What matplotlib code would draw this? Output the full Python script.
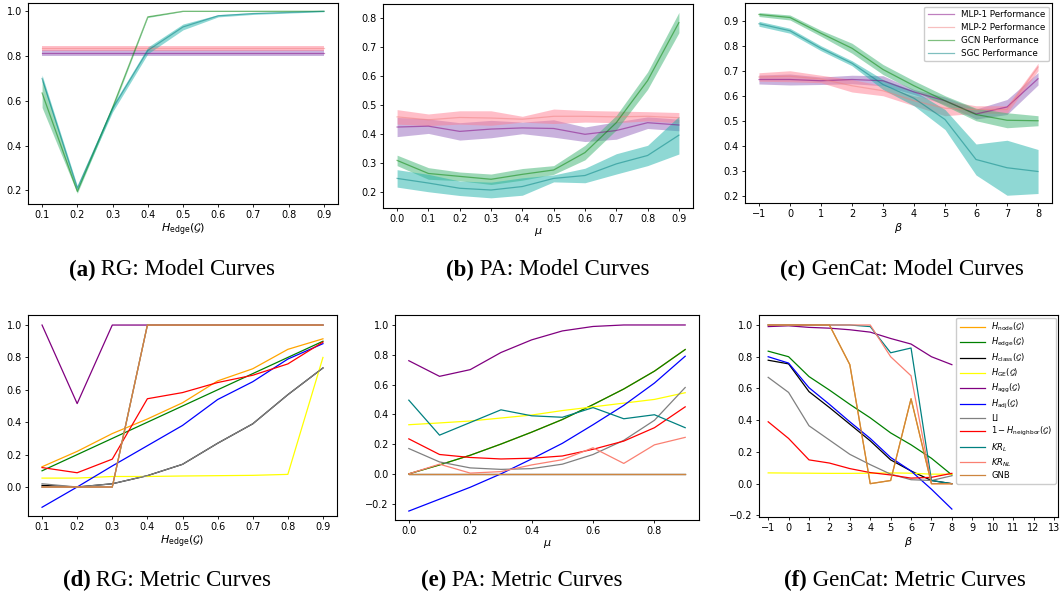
import numpy as np
import matplotlib
matplotlib.use("Agg")
import matplotlib.pyplot as plt

# ---------------- data: model curves ----------------
x_rg = [0.1, 0.2, 0.3, 0.4, 0.5, 0.6, 0.7, 0.8, 0.9]
x_pa = [0.0, 0.1, 0.2, 0.3, 0.4, 0.5, 0.6, 0.7, 0.8, 0.9]
x_gc = [-1, 0, 1, 2, 3, 4, 5, 6, 7, 8]

model_names = ["MLP-1 Performance", "MLP-2 Performance", "GCN Performance", "SGC Performance"]

# RG
rg_mlp1 = [0.815] * 9
rg_mlp1_sd = [0.013] * 9
rg_mlp2 = [0.835] * 9
rg_mlp2_sd = [0.011] * 9
rg_gcn = [0.635, 0.195, 0.57, 0.975, 1.0, 1.0, 1.0, 1.0, 1.0]
rg_gcn_sd = [0.065, 0.008, 0.01, 0.003, 0.001, 0.001, 0.001, 0.001, 0.001]
rg_sgc = [0.70, 0.21, 0.565, 0.825, 0.93, 0.98, 0.99, 0.995, 1.0]
rg_sgc_sd = [0.015, 0.01, 0.015, 0.015, 0.013, 0.005, 0.004, 0.003, 0.002]

# PA
pa_mlp1 = [0.425, 0.428, 0.41, 0.418, 0.422, 0.42, 0.40, 0.413, 0.44, 0.432]
pa_mlp1_sd = [0.033, 0.025, 0.03, 0.03, 0.02, 0.03, 0.025, 0.03, 0.02, 0.02]
pa_mlp2 = [0.46, 0.45, 0.458, 0.456, 0.452, 0.462, 0.462, 0.46, 0.462, 0.457]
pa_mlp2_sd = [0.025, 0.02, 0.023, 0.025, 0.01, 0.025, 0.02, 0.02, 0.016, 0.018]
pa_gcn = [0.31, 0.265, 0.255, 0.245, 0.262, 0.277, 0.337, 0.44, 0.585, 0.785]
pa_gcn_sd = [0.018, 0.02, 0.015, 0.018, 0.02, 0.015, 0.025, 0.025, 0.03, 0.035]
pa_sgc = [0.248, 0.232, 0.214, 0.208, 0.22, 0.248, 0.258, 0.298, 0.327, 0.397]
pa_sgc_sd = [0.03, 0.03, 0.025, 0.027, 0.03, 0.012, 0.025, 0.035, 0.035, 0.065]

# GenCat
gc_mlp1 = [0.665, 0.665, 0.66, 0.665, 0.66, 0.615, 0.58, 0.527, 0.555, 0.668]
gc_mlp1_sd = [0.018, 0.022, 0.015, 0.017, 0.02, 0.01, 0.015, 0.02, 0.03, 0.025]
gc_mlp2 = [0.675, 0.678, 0.667, 0.64, 0.62, 0.58, 0.55, 0.545, 0.545, 0.715]
gc_mlp2_sd = [0.017, 0.022, 0.015, 0.025, 0.02, 0.02, 0.03, 0.015, 0.015, 0.015]
gc_gcn = [0.925, 0.913, 0.85, 0.79, 0.705, 0.64, 0.58, 0.525, 0.502, 0.50]
gc_gcn_sd = [0.008, 0.01, 0.012, 0.02, 0.02, 0.02, 0.02, 0.025, 0.03, 0.02]
gc_sgc = [0.888, 0.86, 0.79, 0.73, 0.645, 0.59, 0.505, 0.345, 0.312, 0.297]
gc_sgc_sd = [0.01, 0.01, 0.01, 0.01, 0.02, 0.03, 0.04, 0.062, 0.11, 0.088]

# ---------------- data: metric curves ----------------
metric_names = [r"$H_{\mathrm{node}}(\mathcal{G})$", r"$H_{\mathrm{edge}}(\mathcal{G})$",
                r"$H_{\mathrm{class}}(\mathcal{G})$", r"$H_{\mathrm{GE}}(\mathcal{G})$",
                r"$H_{\mathrm{agg}}(\mathcal{G})$", r"$H_{\mathrm{adj}}(\mathcal{G})$",
                "LI", r"$1-H_{\mathrm{neighbor}}(\mathcal{G})$", r"$KR_L$", r"$KR_{NL}$", "GNB"]
metric_colors = ["orange", "green", "black", "yellow", "purple", "blue",
                 "gray", "red", "teal", "salmon", "peru"]

rg_metrics = [
    [0.125, 0.22, 0.33, 0.42, 0.52, 0.655, 0.73, 0.85, 0.915],      # H_node
    [0.1, 0.2, 0.3, 0.4, 0.5, 0.6, 0.7, 0.8, 0.9],                  # H_edge
    [0.01, 0.0, 0.02, 0.07, 0.14, 0.27, 0.39, 0.57, 0.735],         # H_class
    [0.055, 0.055, 0.065, 0.065, 0.068, 0.07, 0.072, 0.078, 0.80],  # H_GE
    [1.0, 0.515, 1.0, 1.0, 1.0, 1.0, 1.0, 1.0, 1.0],                # H_agg
    [-0.125, 0.0, 0.13, 0.255, 0.38, 0.54, 0.65, 0.79, 0.885],      # H_adj
    [0.02, 0.0, 0.02, 0.07, 0.14, 0.27, 0.39, 0.57, 0.735],         # LI
    [0.12, 0.088, 0.172, 0.545, 0.583, 0.645, 0.69, 0.76, 0.895],   # 1 - H_neighbor
    [0.0, 0.0, 0.0, 1.0, 1.0, 1.0, 1.0, 1.0, 1.0],                  # KR_L
    [0.0, 0.0, 0.0, 1.0, 1.0, 1.0, 1.0, 1.0, 1.0],                  # KR_NL
    [0.0, 0.0, 0.0, 1.0, 1.0, 1.0, 1.0, 1.0, 1.0],                  # GNB
]

pa_metrics = [
    [0.0, 0.06, 0.125, 0.20, 0.28, 0.365, 0.465, 0.57, 0.69, 0.835],
    [0.0, 0.06, 0.125, 0.20, 0.28, 0.365, 0.465, 0.57, 0.69, 0.835],
    [0.0, 0.0, 0.0, 0.0, 0.0, 0.0, 0.0, 0.0, 0.0, 0.0],
    [0.33, 0.342, 0.355, 0.375, 0.395, 0.425, 0.45, 0.475, 0.50, 0.545],
    [0.76, 0.655, 0.70, 0.815, 0.90, 0.96, 0.99, 1.0, 1.0, 1.0],
    [-0.25, -0.17, -0.09, 0.0, 0.10, 0.205, 0.33, 0.46, 0.61, 0.79],
    [0.17, 0.08, 0.04, 0.03, 0.035, 0.065, 0.13, 0.225, 0.36, 0.58],
    [0.235, 0.13, 0.11, 0.10, 0.105, 0.12, 0.165, 0.22, 0.31, 0.45],
    [0.495, 0.26, 0.345, 0.43, 0.39, 0.38, 0.445, 0.37, 0.397, 0.31],
    [0.0, 0.065, 0.005, 0.015, 0.06, 0.095, 0.175, 0.07, 0.195, 0.245],
    [0.0, 0.0, 0.0, 0.0, 0.0, 0.0, 0.0, 0.0, 0.0, 0.0],
]

gc_metrics = [
    [1.0, 1.0, 1.0, 1.0, 0.75, 0.0, 0.02, 0.535, 0.0, 0.0],
    [0.835, 0.80, 0.675, 0.59, 0.50, 0.415, 0.32, 0.245, 0.16, 0.055],
    [0.778, 0.755, 0.58, 0.48, 0.375, 0.27, 0.15, 0.08, 0.02, 0.0],
    [0.068, 0.067, 0.066, 0.065, 0.065, 0.066, 0.068, 0.066, 0.06, 0.06],
    [0.99, 0.995, 0.985, 0.98, 0.97, 0.955, 0.915, 0.88, 0.80, 0.75],
    [0.80, 0.76, 0.605, 0.50, 0.39, 0.285, 0.165, 0.08, -0.035, -0.16],
    [0.67, 0.575, 0.365, 0.275, 0.185, 0.12, 0.06, 0.025, 0.02, 0.05],
    [0.39, 0.285, 0.15, 0.13, 0.095, 0.07, 0.055, 0.035, 0.04, 0.065],
    [1.0, 1.0, 1.0, 1.0, 1.0, 0.99, 0.825, 0.855, 0.02, 0.0],
    [1.0, 1.0, 1.0, 1.0, 1.0, 1.0, 0.80, 0.68, 0.0, 0.0],
    [1.0, 1.0, 1.0, 1.0, 0.75, 0.0, 0.02, 0.535, 0.0, 0.0],
]

captions = [("(a)", " RG: Model Curves"), ("(b)", " PA: Model Curves"),
            ("(c)", " GenCat: Model Curves"), ("(d)", " RG: Metric Curves"),
            ("(e)", " PA: Metric Curves"), ("(f)", " GenCat: Metric Curves")]

# line colour / band colour for each model
line_cols = ["purple", "lightcoral", "green", "teal"]
band_cols = ["tab:purple", "#ff7f93", "mediumseagreen", "lightseagreen"]

W, H = 1063, 598
fig = plt.figure(figsize=(W / 100, H / 100), dpi=100)


def px_axes(l, r, t, b):
    return fig.add_axes([l / W, 1 - b / H, (r - l) / W, (b - t) / H])


def style(ax):
    ax.tick_params(labelsize=7, length=2.5, width=0.6, pad=2)
    for s in ax.spines.values():
        s.set_linewidth(0.8)


def model_panel(ax, x, means, sds, legend=False):
    x = np.array(x)
    for m, sd, lc, bc, name in zip(means, sds, line_cols, band_cols, model_names):
        m = np.array(m)
        sd = np.array(sd)
        ax.fill_between(x, m - sd, m + sd, color=bc, alpha=0.5, lw=0)
        ax.plot(x, m, color=lc, alpha=0.5, lw=0.9, label=name)
    if legend:
        ax.legend(loc="upper right", fontsize=6.3, handlelength=3, framealpha=1,
                  labelspacing=0.45, borderaxespad=0.4)
    style(ax)


def metric_panel(ax, x, metrics, legend=False):
    for vals, c, name in zip(metrics, metric_colors, metric_names):
        ax.plot(x, vals, color=c, lw=0.9, label=name)
    if legend:
        ax.legend(loc="upper right", fontsize=6, handlelength=3, framealpha=1,
                  labelspacing=0.32, borderaxespad=0.3)
    style(ax)


ax_a = px_axes(28, 338, 3, 204)
model_panel(ax_a, x_rg, [rg_mlp1, rg_mlp2, rg_gcn, rg_sgc],
            [rg_mlp1_sd, rg_mlp2_sd, rg_gcn_sd, rg_sgc_sd])
ax_a.set_xticks(x_rg)
ax_a.set_yticks([0.2, 0.4, 0.6, 0.8, 1.0])
ax_a.set_ylim(0.139, 1.037)
ax_a.set_xlabel(r"$H_{\mathrm{edge}}(\mathcal{G})$", fontsize=8, labelpad=1)

ax_b = px_axes(383, 693, 4, 208)
model_panel(ax_b, x_pa, [pa_mlp1, pa_mlp2, pa_gcn, pa_sgc],
            [pa_mlp1_sd, pa_mlp2_sd, pa_gcn_sd, pa_sgc_sd])
ax_b.set_xticks(x_pa)
ax_b.set_yticks([0.2, 0.3, 0.4, 0.5, 0.6, 0.7, 0.8])
ax_b.set_ylim(0.146, 0.849)
ax_b.set_xlabel(r"$\mu$", fontsize=8, labelpad=1)

ax_c = px_axes(745, 1052, 3, 203)
model_panel(ax_c, x_gc, [gc_mlp1, gc_mlp2, gc_gcn, gc_sgc],
            [gc_mlp1_sd, gc_mlp2_sd, gc_gcn_sd, gc_sgc_sd], legend=True)
ax_c.set_xticks(x_gc)
ax_c.set_yticks([0.2, 0.3, 0.4, 0.5, 0.6, 0.7, 0.8, 0.9])
ax_c.set_ylim(0.171, 0.971)
ax_c.set_xlabel(r"$\beta$", fontsize=8, labelpad=1)

ax_d = px_axes(28, 337, 315, 516)
metric_panel(ax_d, x_rg, rg_metrics)
ax_d.set_xticks(x_rg)
ax_d.set_yticks([0.0, 0.2, 0.4, 0.6, 0.8, 1.0])
ax_d.set_ylim(-0.179, 1.062)
ax_d.set_xlabel(r"$H_{\mathrm{edge}}(\mathcal{G})$", fontsize=8, labelpad=1)

ax_e = px_axes(395, 699, 315, 520)
metric_panel(ax_e, x_pa, pa_metrics)
ax_e.set_xticks([0.0, 0.2, 0.4, 0.6, 0.8])
ax_e.set_yticks([-0.2, 0.0, 0.2, 0.4, 0.6, 0.8, 1.0])
ax_e.set_ylim(-0.31, 1.067)
ax_e.set_xlabel(r"$\mu$", fontsize=8, labelpad=1)

ax_f = px_axes(759, 1058, 315, 517)
metric_panel(ax_f, x_gc, gc_metrics, legend=True)
ax_f.set_xticks(range(-1, 14))
ax_f.set_yticks([-0.2, 0.0, 0.2, 0.4, 0.6, 0.8, 1.0])
ax_f.set_xlim(-1.45, 13.2)
ax_f.set_ylim(-0.21, 1.063)
ax_f.set_xlabel(r"$\beta$", fontsize=8, labelpad=1)

# captions: bold label + regular text, centred as one piece
cap_pos = [(172, 270), (548, 270), (902, 270), (167, 580), (522, 580), (905, 580)]
fig.canvas.draw()
rend = fig.canvas.get_renderer()
for (lab, txt), (cx, cy) in zip(captions, cap_pos):
    t1 = fig.text(0, 1 - cy / H, lab, fontsize=16.5, fontweight="bold",
                  family="Liberation Serif", va="center", ha="left")
    t2 = fig.text(0, 1 - cy / H, txt, fontsize=16.5, family="Liberation Serif",
                  va="center", ha="left")
    w1 = t1.get_window_extent(rend).width
    w2 = t2.get_window_extent(rend).width
    x0 = cx - (w1 + w2) / 2
    t1.set_x(x0 / W)
    t2.set_x((x0 + w1) / W)

fig.savefig("out.png", dpi=100)
